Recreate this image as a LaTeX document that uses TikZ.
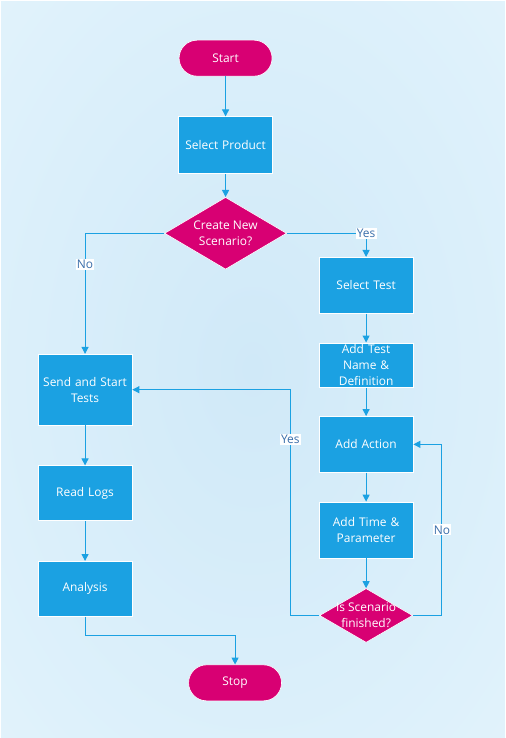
\documentclass[tikz,border=0pt]{standalone}
\usepackage{fontspec}
\setmainfont{Open Sans}
\usetikzlibrary{positioning,calc,arrows.meta,shapes.geometric}
\definecolor{flowblue}{RGB}{27,161,226}
\definecolor{flowpink}{RGB}{216,0,115}
\definecolor{lbltext}{RGB}{58,110,170}
\definecolor{bgin}{RGB}{208,233,248}
\definecolor{bgmid}{RGB}{222,241,251}
\definecolor{bgout}{RGB}{234,247,253}
\pgfdeclareradialshading{bgshade}{\pgfpoint{0bp}{0bp}}{color(0bp)=(bgin);
   color(30bp)=(bgmid); color(50bp)=(bgout); color(70bp)=(bgout)}
\tikzset{
   term/.style={rectangle, rounded corners=18bp, draw=white, line width=0.6bp,
      fill=flowpink, text=white, minimum width=93bp, minimum height=36bp,
      inner sep=0, font=\boxfont},
   proc/.style={rectangle, draw=white, line width=0.6bp, fill=flowblue,
      text=white, minimum width=94bp, minimum height=56bp, inner sep=0,
      text width=94bp, align=center, font=\boxfont},
   decide/.style={diamond, draw=white, line width=0.6bp, fill=flowpink,
      inner sep=0},
   dlbl/.style={text=white, align=center, font=\boxfont},
   lbl/.style={fill=white, text=lbltext, inner sep=1.2bp, font=\boxfont},
   conn/.style={draw=flowblue, line width=1bp, -{Triangle[width=7bp,length=7bp]}}
}
\newcommand{\boxfont}{\fontsize{12}{16}\selectfont}

\begin{document}
\begin{tikzpicture}[x=1bp, y=1bp]
   % background
   \shade[shading=bgshade, draw=white] (0,0) rectangle (505,-738);
   \useasboundingbox (0,0) rectangle (505,-738);

   % middle column
   \node[term] (start) at (225.5,-58) {Start};
   \node[proc, minimum height=57bp, below=40bp of start] (prod) {Select Product};
   \node[decide, minimum width=122bp, minimum height=72bp, below=23bp of prod,
      label={[dlbl]center:Create New\\Scenario?}] (newsc) {};

   % right column
   \node[proc, below right=83bp and 46bp of prod] (seltest) {Select Test};
   \node[proc, minimum height=45bp, below=29bp of seltest] (addname)
      {Add Test\\Name \&\\Definition};
   \node[proc, below=28bp of addname] (addact) {Add Action};
   \node[proc, below=29bp of addact] (addtime) {Add Time \&\\Parameter};
   \node[decide, minimum width=93bp, minimum height=54bp, below=30bp of addtime,
      label={[dlbl]center:Is Scenario\\finished?}] (fin) {};

   % left column
   \node[proc, minimum height=71bp, below left=180bp and 46bp of prod] (send)
      {Send and Start\\Tests};
   \node[proc, minimum height=55bp, below=40bp of send] (logs) {Read Logs};
   \node[proc, minimum height=55bp, below=40bp of logs] (anal) {Analysis};
   \node[term, below right=48bp and 56bp of anal] (stop) {Stop};

   % connectors
   \draw[conn] (start) -- (prod);
   \draw[conn] (prod) -- (newsc);
   \draw[conn] (newsc.east) -| node[lbl]{Yes} (seltest.north);
   \draw[conn] (newsc.west) -| node[lbl, pos=0.63]{No} (send.north);
   \draw[conn] (seltest) -- (addname);
   \draw[conn] (addname) -- (addact);
   \draw[conn] (addact) -- (addtime);
   \draw[conn] (addtime) -- (fin);
   \draw[conn] (fin.east) -- ++(29bp,0) |- node[lbl, pos=0.25]{No} (addact.east);
   \draw[conn] (fin.west) -- ++(-29bp,0) |- node[lbl, pos=0.39]{Yes} (send.east);
   \draw[conn] (send) -- (logs);
   \draw[conn] (logs) -- (anal);
   \draw[conn] (anal.south) -- ++(0,-19bp) -| (stop.north);
\end{tikzpicture}
\end{document}
